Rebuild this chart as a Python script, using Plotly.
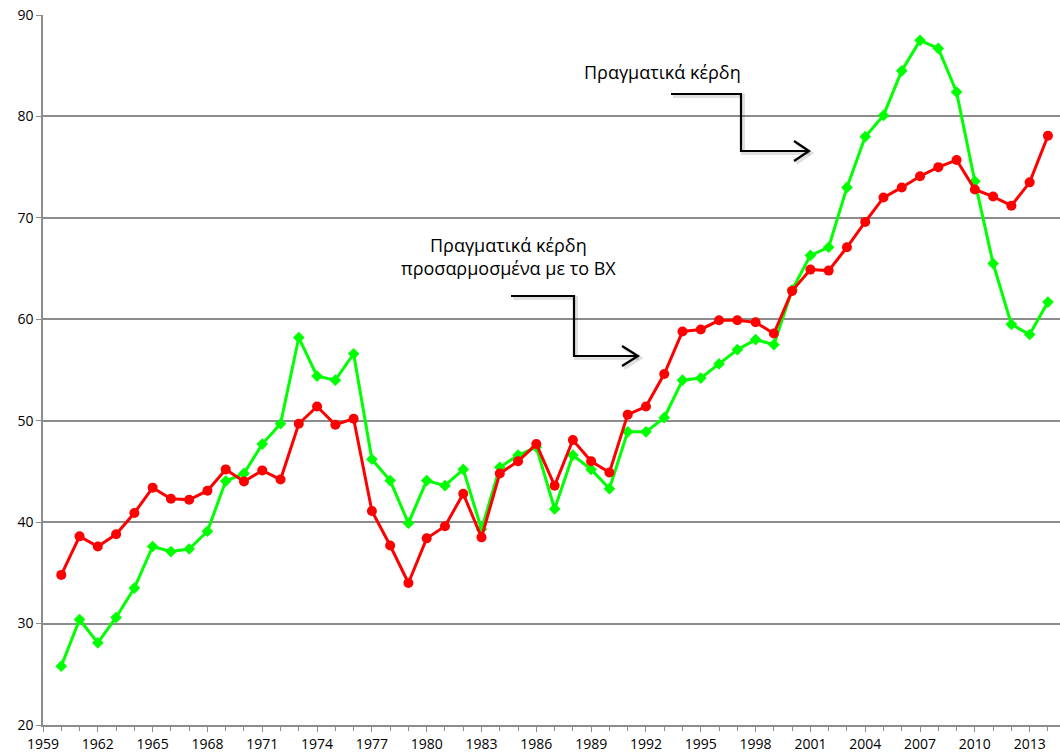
import plotly.graph_objects as go

years = list(range(1960, 2015))
real_profits = [25.8, 30.4, 28.1, 30.6, 33.5, 37.6, 37.1, 37.35, 39.1, 44.05,
                44.8, 47.7, 49.7, 58.2, 54.4, 54.0, 56.6, 46.2, 44.1, 39.9,
                44.1, 43.6, 45.2, 39.3, 45.4, 46.6, 47.4, 41.3, 46.6, 45.2,
                43.3, 48.9, 48.9, 50.3, 54.0, 54.2, 55.6, 57.0, 58.0, 57.5,
                62.9, 66.3, 67.1, 73.0, 78.0, 80.1, 84.5, 87.5, 86.7, 82.4,
                73.6, 65.5, 59.5, 58.5, 61.7]
adj_profits = [34.8, 38.6, 37.6, 38.8, 40.9, 43.4, 42.3, 42.2, 43.1, 45.2,
               44.0, 45.1, 44.2, 49.7, 51.4, 49.6, 50.2, 41.1, 37.7, 34.0,
               38.4, 39.6, 42.8, 38.5, 44.8, 46.0, 47.7, 43.6, 48.1, 46.0,
               44.9, 50.6, 51.4, 54.6, 58.8, 59.0, 59.9, 59.9, 59.7, 58.6,
               62.8, 64.9, 64.8, 67.1, 69.6, 72.0, 73.0, 74.1, 75.0, 75.7,
               72.8, 72.1, 71.2, 73.5, 78.1]
label_real = "Πραγματικά κέρδη"
label_adj = ["Πραγματικά κέρδη", "προσαρμοσμένα με το ΒΧ"]

W, H = 1060, 753
L, R, T, B = 43, 0, 15, 28
PW, PH = W - L - R, H - T - B

def px(x):
    return (x - L) / PW

def py(y):
    return (H - B - y) / PH

FONT = "Open Sans"

fig = go.Figure()
fig.add_trace(go.Scatter(
    x=years, y=real_profits, mode="lines+markers",
    line=dict(color="#00FF00", width=3),
    marker=dict(symbol="diamond", size=9, color="#00FF00"),
    name=label_real))
fig.add_trace(go.Scatter(
    x=years, y=adj_profits, mode="lines+markers",
    line=dict(color="#FF0000", width=3),
    marker=dict(symbol="circle", size=10, color="#FF0000"),
    name=" ".join(label_adj)))

def arrow(pts, head):
    shapes = []
    for dx, dy, col, w in [(2, 2, "rgba(0,0,0,0.12)", 4), (0, 0, "black", 2.2)]:
        p = "M " + " L ".join(f"{px(x+dx)},{py(y+dy)}" for x, y in pts)
        shapes.append(dict(type="path", xref="paper", yref="paper", path=p,
                           line=dict(color=col, width=w)))
        h = "M " + " L ".join(f"{px(x+dx)},{py(y+dy)}" for x, y in head)
        shapes.append(dict(type="path", xref="paper", yref="paper", path=h,
                           line=dict(color=col, width=w)))
    return shapes

shapes = []
shapes += arrow([(671, 94), (741, 94), (741, 151), (808, 151)],
                [(794, 141), (809, 151), (794, 161)])
shapes += arrow([(511, 296), (574, 296), (574, 356), (637, 356)],
                [(622, 346), (638, 356), (622, 366)])

annotations = [
    dict(x=px(662), y=py(72), xref="paper", yref="paper", text=label_real,
         showarrow=False, font=dict(family=FONT, size=18, color="black"),
         xanchor="center", yanchor="middle"),
    dict(x=px(508), y=py(256), xref="paper", yref="paper",
         text="<br>".join(label_adj),
         showarrow=False, font=dict(family=FONT, size=18, color="black"),
         xanchor="center", yanchor="middle"),
]

fig.update_layout(
    width=W, height=H,
    margin=dict(l=L, r=R, t=T, b=B),
    plot_bgcolor="white", paper_bgcolor="white",
    showlegend=False,
    font=dict(family=FONT, size=14, color="black"),
    shapes=shapes, annotations=annotations,
    xaxis=dict(range=[1959, 2014.66], tick0=1959, dtick=3,
               showgrid=False, zeroline=False,
               showline=True, linecolor="#8c8c8c", linewidth=1.6,
               ticks="outside", ticklen=5, tickcolor="#8c8c8c", tickwidth=1.4,
               minor=dict(dtick=1, tick0=1959, ticks="outside", ticklen=4,
                          tickcolor="#8c8c8c", tickwidth=1.4, showgrid=False),
               tickfont=dict(family=FONT, size=14, color="black")),
    yaxis=dict(range=[20, 90], dtick=10, tick0=20,
               showgrid=True, gridcolor="#8c8c8c", gridwidth=1.5,
               zeroline=False,
               showline=True, linecolor="#8c8c8c", linewidth=1.6,
               ticks="outside", ticklen=5, tickcolor="#8c8c8c", tickwidth=1.4,
               tickfont=dict(family=FONT, size=14, color="black")),
)

fig.write_html("out.html",
               config={"displayModeBar": False},
               post_script="document.body.style.margin='0';document.body.style.overflow='hidden';")
